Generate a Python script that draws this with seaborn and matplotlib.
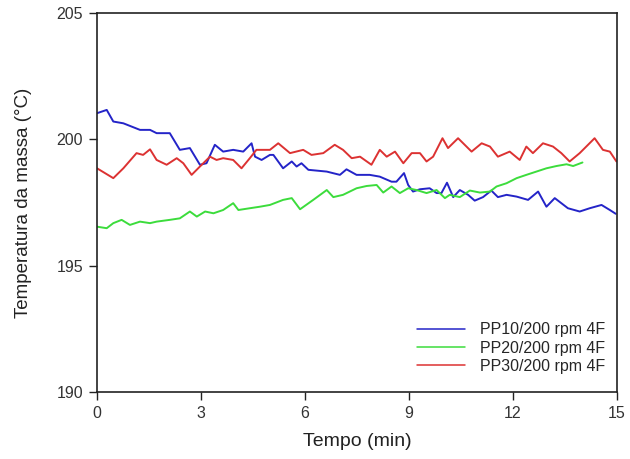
import matplotlib
matplotlib.use("Agg")
import matplotlib.pyplot as plt
import seaborn as sns
import pandas as pd

# Data
pp10_t = [0.0, 0.28, 0.47, 0.76, 1.24, 1.53, 1.72, 2.1, 2.39, 2.68, 2.97, 3.16, 3.4, 3.64, 3.93,
          4.22, 4.46, 4.56, 4.75, 4.99, 5.09, 5.37, 5.62, 5.76, 5.9, 6.1, 6.63, 7.01, 7.2, 7.49,
          7.87, 8.16, 8.5, 8.64, 8.86, 8.98, 9.12, 9.32, 9.6, 9.8, 9.94, 10.1, 10.28, 10.47, 10.71,
          10.9, 11.14, 11.38, 11.57, 11.82, 12.11, 12.44, 12.73, 12.97, 13.21, 13.59, 13.93, 14.22,
          14.56, 14.8, 14.97]
pp10_v = [201.03, 201.16, 200.7, 200.63, 200.37, 200.37, 200.24, 200.24, 199.58, 199.65, 198.99,
          199.05, 199.78, 199.51, 199.58, 199.51, 199.84, 199.31, 199.18, 199.38, 199.38, 198.85,
          199.12, 198.92, 199.05, 198.79, 198.72, 198.59, 198.81, 198.59, 198.59, 198.52, 198.32,
          198.32, 198.66, 198.19, 197.93, 198.02, 198.06, 197.87, 197.87, 198.28, 197.71, 197.99,
          197.8, 197.57, 197.71, 197.97, 197.71, 197.8, 197.73, 197.6, 197.93, 197.33, 197.67,
          197.27, 197.14, 197.27, 197.4, 197.2, 197.05]

pp20_t = [0.0, 0.28, 0.47, 0.71, 0.95, 1.24, 1.53, 1.72, 2.1, 2.39, 2.68, 2.88, 3.12, 3.36, 3.64,
          3.93, 4.08, 4.41, 4.7, 4.99, 5.37, 5.62, 5.86, 6.24, 6.63, 6.82, 7.1, 7.49, 7.78, 8.07,
          8.26, 8.5, 8.74, 8.98, 9.22, 9.51, 9.8, 10.04, 10.18, 10.47, 10.76, 11.05, 11.34, 11.53,
          11.82, 12.11, 12.39, 12.68, 12.97, 13.26, 13.55, 13.74, 14.01]
pp20_v = [196.54, 196.48, 196.68, 196.81, 196.61, 196.74, 196.68, 196.74, 196.81, 196.87, 197.14,
          196.94, 197.14, 197.07, 197.2, 197.47, 197.2, 197.27, 197.33, 197.4, 197.6, 197.67,
          197.23, 197.6, 197.99, 197.71, 197.8, 198.06, 198.15, 198.19, 197.89, 198.13, 197.87,
          198.06, 197.99, 197.87, 197.99, 197.67, 197.8, 197.71, 197.97, 197.89, 197.93, 198.13,
          198.26, 198.46, 198.59, 198.72, 198.85, 198.94, 199.01, 198.94, 199.08]

pp30_t = [0.0, 0.47, 0.76, 1.14, 1.33, 1.53, 1.72, 2.01, 2.3, 2.49, 2.73, 2.97, 3.26, 3.45, 3.64,
          3.93, 4.17, 4.41, 4.6, 4.99, 5.23, 5.57, 5.95, 6.19, 6.53, 6.86, 7.1, 7.35, 7.59, 7.92,
          8.16, 8.36, 8.6, 8.84, 9.08, 9.32, 9.51, 9.7, 9.97, 10.13, 10.42, 10.81, 11.1, 11.34,
          11.57, 11.91, 12.2, 12.39, 12.58, 12.87, 13.16, 13.4, 13.64, 13.93, 14.12, 14.36, 14.6,
          14.8, 14.99]
pp30_v = [198.85, 198.46, 198.85, 199.45, 199.38, 199.6, 199.18, 198.99, 199.25, 199.05, 198.59,
          198.92, 199.31, 199.18, 199.25, 199.18, 198.85, 199.25, 199.58, 199.58, 199.84, 199.45,
          199.58, 199.38, 199.45, 199.78, 199.58, 199.25, 199.31, 198.99, 199.58, 199.31, 199.51,
          199.05, 199.45, 199.45, 199.12, 199.31, 200.04, 199.65, 200.04, 199.51, 199.84, 199.71,
          199.31, 199.51, 199.18, 199.71, 199.45, 199.84, 199.71, 199.45, 199.12, 199.45, 199.71,
          200.04, 199.58, 199.51, 199.12]

labels = ["PP10/200 rpm 4F", "PP20/200 rpm 4F", "PP30/200 rpm 4F"]
colors = ["#2424c8", "#3cdc3c", "#dc3232"]
x_ticks = [0, 3, 6, 9, 12, 15]
y_ticks = [190, 195, 200, 205]

df = pd.concat([
    pd.DataFrame({"t": pp10_t, "v": pp10_v, "s": labels[0]}),
    pd.DataFrame({"t": pp20_t, "v": pp20_v, "s": labels[1]}),
    pd.DataFrame({"t": pp30_t, "v": pp30_v, "s": labels[2]}),
])

sns.set_style("ticks")
plt.rcParams["font.family"] = ["Liberation Sans", "DejaVu Sans"]

fig = plt.figure(figsize=(6.3, 4.59), dpi=100)
ax = fig.add_axes([0.154, 0.146, 0.825, 0.826])
sns.lineplot(data=df, x="t", y="v", hue="s", palette=dict(zip(labels, colors)),
             linewidth=1.4, ax=ax, estimator=None, sort=False)

ax.set_xlim(0, 15)
ax.set_ylim(190, 205)
ax.set_xticks(x_ticks)
ax.set_yticks(y_ticks)
ax.tick_params(direction="out", length=6, width=1, colors="#222222", labelsize=11.5,
               labelcolor="#333333", pad=4)
for sp in ax.spines.values():
    sp.set_visible(True)
    sp.set_color("#222222")
    sp.set_linewidth(1.2)
ax.set_xlabel("Tempo (min)", fontsize=14, color="#222222", labelpad=9)
ax.set_ylabel("Temperatura da massa (°C)", fontsize=13.5, color="#222222", labelpad=18)

leg = ax.legend(loc="lower right", bbox_to_anchor=(1.005, 0.01), frameon=False,
                fontsize=11.5, handlelength=3.0, handletextpad=0.9, labelspacing=0.2,
                title=None)
for line in leg.get_lines():
    line.set_linewidth(1.1)

fig.savefig("out.png", dpi=100)
